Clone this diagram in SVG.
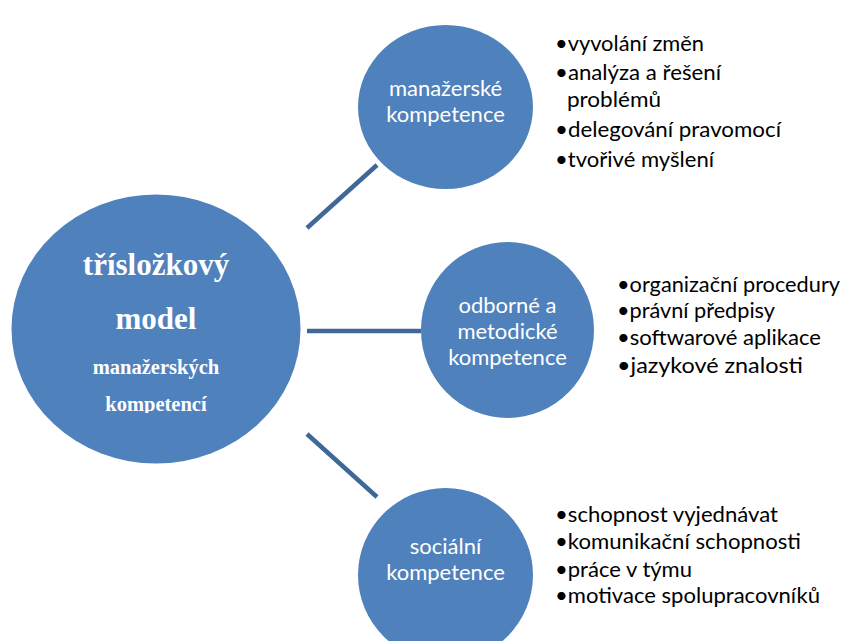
<svg xmlns="http://www.w3.org/2000/svg" width="850" height="641" viewBox="0 0 850 641">
<defs>
<style>
.node{fill:#4F81BD;}
.conn{stroke:#3F6899;stroke-width:4.5;fill:none;}
.ct{font-family:Lato,"Liberation Sans",sans-serif;font-size:22px;fill:#fff;text-anchor:middle;}
.bt{font-family:"Liberation Serif","Times New Roman",serif;font-weight:bold;fill:#fff;text-anchor:middle;}
.lt{font-family:Lato,"Liberation Sans",sans-serif;font-size:20.5px;fill:#000;}
</style>
<clipPath id="clipMain"><rect x="0" y="0" width="320" height="413"/></clipPath>
</defs>
<rect width="850" height="641" fill="#fff"/>
<g id="connectors">
<line class="conn" x1="307" y1="228" x2="377" y2="165"/>
<line class="conn" x1="307" y1="331" x2="421" y2="331"/>
<line class="conn" x1="307" y1="434" x2="377" y2="497"/>
</g>
<g id="main">
<ellipse class="node" cx="156" cy="329" rx="144.5" ry="134.5"/>
<text class="bt" x="156" y="275" font-size="31">třísložkový</text>
<text class="bt" x="156" y="329" font-size="31">model</text>
<text class="bt" x="156" y="374" font-size="20.5">manažerských</text>
<text class="bt" x="156" y="411" font-size="20.5" clip-path="url(#clipMain)">kompetencí</text>
</g>
<g id="manazerske">
<ellipse class="node" cx="445.5" cy="107" rx="87.5" ry="82"/>
<text class="ct" x="445.5" y="96">manažerské</text>
<text class="ct" x="445.5" y="122">kompetence</text>
</g>
<g id="odborne">
<ellipse class="node" cx="507.5" cy="330" rx="86.5" ry="88"/>
<text class="ct" x="507.5" y="313">odborné a</text>
<text class="ct" x="507.5" y="339">metodické</text>
<text class="ct" x="507.5" y="365">kompetence</text>
</g>
<g id="socialni">
<ellipse class="node" cx="445.5" cy="575" rx="87.5" ry="87"/>
<text class="ct" x="445.5" y="554">sociální</text>
<text class="ct" x="445.5" y="580">kompetence</text>
</g>
<g id="list-manazerske">
<text class="lt" x="555" y="51" textLength="149" lengthAdjust="spacingAndGlyphs">•vyvolání změn</text>
<text class="lt" x="555" y="80" textLength="166" lengthAdjust="spacingAndGlyphs">•analýza a řešení</text>
<text class="lt" x="567" y="107" textLength="94" lengthAdjust="spacingAndGlyphs">problémů</text>
<text class="lt" x="555" y="137" textLength="226" lengthAdjust="spacingAndGlyphs">•delegování pravomocí</text>
<text class="lt" x="555" y="167" textLength="159" lengthAdjust="spacingAndGlyphs">•tvořivé myšlení</text>
</g>
<g id="list-odborne">
<text class="lt" x="617" y="292" textLength="223" lengthAdjust="spacingAndGlyphs">•organizační procedury</text>
<text class="lt" x="617" y="318" textLength="158" lengthAdjust="spacingAndGlyphs">•právní předpisy</text>
<text class="lt" x="617" y="345" textLength="204" lengthAdjust="spacingAndGlyphs">•softwarové aplikace</text>
<text class="lt" x="617" y="373" textLength="186" lengthAdjust="spacingAndGlyphs">•jazykové znalosti</text>
</g>
<g id="list-socialni">
<text class="lt" x="555" y="522" textLength="223" lengthAdjust="spacingAndGlyphs">•schopnost vyjednávat</text>
<text class="lt" x="555" y="549" textLength="246" lengthAdjust="spacingAndGlyphs">•komunikační schopnosti</text>
<text class="lt" x="555" y="577" textLength="137" lengthAdjust="spacingAndGlyphs">•práce v týmu</text>
<text class="lt" x="555" y="603" textLength="265" lengthAdjust="spacingAndGlyphs">•motivace spolupracovníků</text>
</g>
</svg>
